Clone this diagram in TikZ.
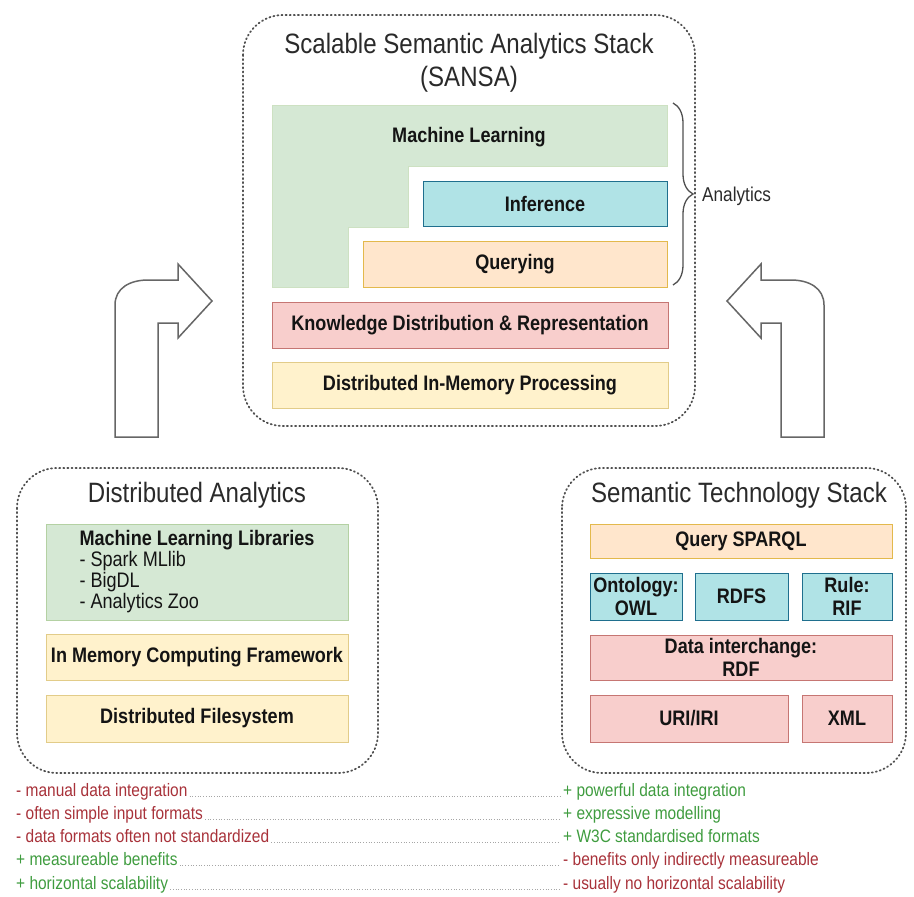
\documentclass[tikz,border=0pt]{standalone}
\usepackage{fontspec}
\setmainfont{Liberation Sans}[FakeStretch=0.86]
\usetikzlibrary{decorations.pathreplacing}

\definecolor{mlfill}{HTML}{D5E8D4}
\definecolor{mlline}{HTML}{82B366}
\definecolor{tealfill}{HTML}{B0E3E6}
\definecolor{tealline}{HTML}{1F6F8E}
\definecolor{orfill}{HTML}{FFE6CC}
\definecolor{orline}{HTML}{D79B00}
\definecolor{rdfill}{HTML}{F8CECC}
\definecolor{rdline}{HTML}{B85450}
\definecolor{ylfill}{HTML}{FFF2CC}
\definecolor{ylline}{HTML}{D6B656}
\definecolor{contline}{HTML}{505050}
\definecolor{arrowline}{HTML}{666666}
\definecolor{procol}{HTML}{3F9C3F}
\definecolor{concol}{HTML}{A8323A}
\definecolor{txt}{HTML}{141414}
\definecolor{titletxt}{HTML}{2A2A2A}

\tikzset{
  container/.style={draw=contline, line width=1.8pt, line cap=round, dash pattern=on 1.1pt off 3pt, rounded corners=40pt},
  layer/.style={rectangle, line width=0.8pt, text=txt, align=center, inner sep=0pt,
    font=\bfseries\fontsize{21}{23}\selectfont},
  greenlayer/.style={layer, fill=mlfill, draw=mlline!60},
  teallayer/.style={layer, fill=tealfill, draw=tealline},
  orangelayer/.style={layer, fill=orfill, draw=orline!70},
  redlayer/.style={layer, fill=rdfill, draw=rdline!80},
  yellowlayer/.style={layer, fill=ylfill, draw=ylline!70},
  stacktitle/.style={text=titletxt, align=center, inner sep=0pt, font=\fontsize{28}{33}\selectfont},
  bigarrow/.style={draw=arrowline, fill=white, line width=1.5pt, line join=miter},
  pro/.style={anchor=base west, inner sep=0pt, text=procol, font=\fontsize{18}{20}\selectfont},
  con/.style={anchor=base west, inner sep=0pt, text=concol, font=\fontsize{18}{20}\selectfont},
  leader/.style={draw=gray!70, line width=0.9pt, dash pattern=on 0.9pt off 1.8pt,
    shorten <=2pt, shorten >=3pt},
}

\begin{document}
\begin{tikzpicture}[x=1pt, y=-1pt]
\useasboundingbox (0,0) rectangle (914,897);

% ---------- SANSA stack ----------
\draw[container] (243,15) rectangle (695,426);
\node[stacktitle] (sansatitle) at (469,63) {Scalable Semantic Analytics Stack\\(SANSA)};

\draw[fill=mlfill, draw=mlline!40, line width=0.8pt]
  (272,105) -- (667,105) -- (667,166) -- (408,166) -- (408,227)
  -- (348,227) -- (348,287) -- (272,287) -- cycle;
\node[layer] (ml) at (469,137) {Machine Learning};
\node[teallayer, minimum width=244pt, minimum height=45pt] (inference) at (545,203.5) {Inference};
\node[orangelayer, minimum width=304pt, minimum height=46pt] (querying) at (515,264) {Querying};
\node[redlayer, minimum width=396pt, minimum height=46pt] (kdr) at (470,325) {Knowledge Distribution \& Representation};
\node[yellowlayer, minimum width=396pt, minimum height=46pt] (dimp) at (470,385) {Distributed In-Memory Processing};

% brace grouping the analytics layers
\coordinate (bracetop) at (673,103);
\coordinate (bracebot) at (673,285);
\draw[decorate, decoration={brace, amplitude=20pt}, draw=contline, line width=1.3pt] (bracetop) -- (bracebot);
\node[anchor=west, inner sep=0pt, text=titletxt, font=\fontsize{20}{22}\selectfont] (analytics) at (702,196) {Analytics};

% ---------- turn arrows feeding the stack ----------
\draw[bigarrow] (115,437) -- (115,305) .. controls (115,288) and (130,280) .. (148,280)
  -- (178,280) -- (178,264) -- (212,301) -- (178,338) -- (178,323) -- (158,323) -- (158,437) -- cycle;
\draw[bigarrow] (824,437) -- (824,305) .. controls (824,288) and (809,280) .. (791,280)
  -- (761,280) -- (761,264) -- (727,301) -- (761,338) -- (761,323) -- (781,323) -- (781,437) -- cycle;

% ---------- Distributed Analytics ----------
\draw[container] (17,468) rectangle (378,773);
\node[stacktitle] (datitle) at (197,495) {Distributed Analytics};
\node[greenlayer, minimum width=302pt, minimum height=96pt] (mllib) at (197,572)
  {\begin{tabular}{@{}l@{}}Machine Learning Libraries\\[-2pt]
   \mdseries - Spark MLlib\\[-2pt] \mdseries - BigDL\\[-2pt] \mdseries - Analytics Zoo\end{tabular}};
\node[yellowlayer, minimum width=302pt, minimum height=46pt] (inmem) at (197,657) {In Memory Computing Framework};
\node[yellowlayer, minimum width=302pt, minimum height=47pt] (dfs) at (197,718.5) {Distributed Filesystem};

% ---------- Semantic Technology Stack ----------
\draw[container] (562,468) rectangle (906,773);
\node[stacktitle] (sttitle) at (739,495) {Semantic Technology Stack};
\node[orangelayer, minimum width=302pt, minimum height=34pt] (sparql) at (741,541) {Query SPARQL};
\node[teallayer, minimum width=92pt, minimum height=47pt] (owl) at (636,596.5) {Ontology:\\OWL};
\node[teallayer, minimum width=93pt, minimum height=47pt] (rdfs) at (741.5,596.5) {RDFS};
\node[teallayer, minimum width=90pt, minimum height=47pt] (rif) at (847,596.5) {Rule:\\RIF};
\node[redlayer, minimum width=302pt, minimum height=45pt] (rdf) at (741,657.5) {Data interchange:\\RDF};
\node[redlayer, minimum width=198pt, minimum height=47pt] (uri) at (689,718.5) {URI/IRI};
\node[redlayer, minimum width=90pt, minimum height=47pt] (xml) at (847,718.5) {XML};

% ---------- comparison list ----------
\node[con] (l1) at (16,796) {- manual data integration};
\node[con] (l2) at (16,819) {- often simple input formats};
\node[con] (l3) at (16,842) {- data formats often not standardized};
\node[pro] (l4) at (16,865) {+ measureable benefits};
\node[pro] (l5) at (16,889) {+ horizontal scalability};
\node[pro] (r1) at (563,796) {+ powerful data integration};
\node[pro] (r2) at (563,819) {+ expressive modelling};
\node[pro] (r3) at (563,842) {+ W3C standardised formats};
\node[con] (r4) at (563,865) {- benefits only indirectly measureable};
\node[con] (r5) at (563,889) {- usually no horizontal scalability};
\foreach \i in {1,...,5}{
  \draw[leader] (l\i.base east) -- (r\i.base west);
}
\end{tikzpicture}
\end{document}
